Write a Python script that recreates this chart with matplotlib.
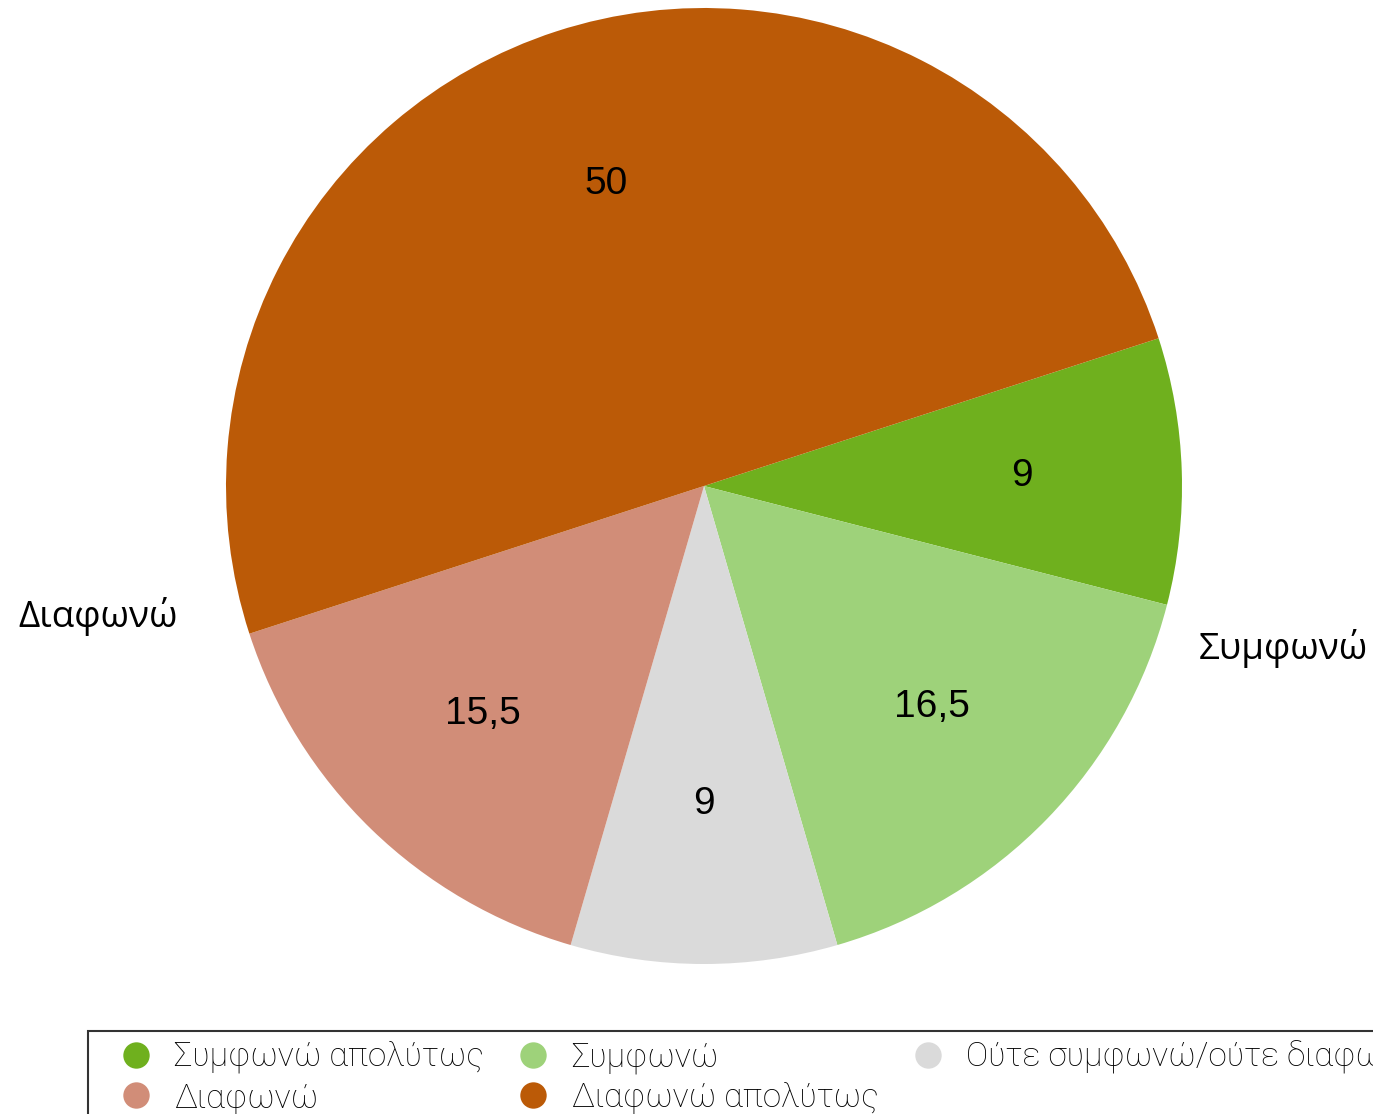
import matplotlib
matplotlib.use("Agg")
import matplotlib.pyplot as plt
from matplotlib.lines import Line2D

plt.rcParams['font.family'] = ['Open Sans', 'DejaVu Sans']

labels = ["Συμφωνώ απολύτως", "Συμφωνώ", "Ούτε συμφωνώ/ούτε διαφωνώ",
          "Διαφωνώ", "Διαφωνώ απολύτως"]
values = [9, 16.5, 9, 15.5, 50]
value_text = ["9", "16,5", "9", "15,5", "50"]
colors = ["#6FB01E", "#9ED27A", "#DADADA", "#D18D78", "#BB5A07"]

W, H = 1373, 1114
fig = plt.figure(figsize=(W / 100, H / 100), dpi=100)
cx, cy, r = 704, 486, 478
ax = fig.add_axes([(cx - r) / W, (H - cy - r) / H, 2 * r / W, 2 * r / H])

wedges, texts, autotexts = ax.pie(
    values, colors=colors, startangle=18, counterclock=False,
    autopct="%1.1f", pctdistance=0.665, radius=1,
    wedgeprops=dict(linewidth=0))
for t, s in zip(autotexts, value_text):
    t.set_text(s)
    t.set_fontsize(28)
    t.set_family(['Liberation Sans', 'DejaVu Sans'])
ax.set_xlim(-1, 1)
ax.set_ylim(-1, 1)
ax.set_aspect('equal')
ax.axis('off')

fig.text(1283 / W, 1 - 648 / H, "Συμφωνώ", fontsize=26.5, ha='center', va='center')
fig.text(98 / W, 1 - 617 / H, "Διαφωνώ", fontsize=26.5, ha='center', va='center')

handles = [Line2D([], [], linestyle='none', marker='o', markersize=19,
                  markerfacecolor=c, markeredgewidth=0) for c in colors]
order = [0, 3, 1, 4, 2]
leg = fig.legend([handles[i] for i in order], [labels[i] for i in order],
                 ncol=3, loc='upper left',
                 bbox_to_anchor=(88 / W, 1 - 1031 / H),
                 bbox_transform=fig.transFigure, borderaxespad=0,
                 frameon=True, fancybox=False, edgecolor='black',
                 prop=dict(family=['Roboto', 'DejaVu Sans'], weight='light', size=24),
                 handlelength=2.3, handletextpad=0.0, columnspacing=0.33,
                 labelspacing=0.25, borderpad=0.28)
leg.get_frame().set_linewidth(1.5)

fig.savefig("out.png", dpi=100)
